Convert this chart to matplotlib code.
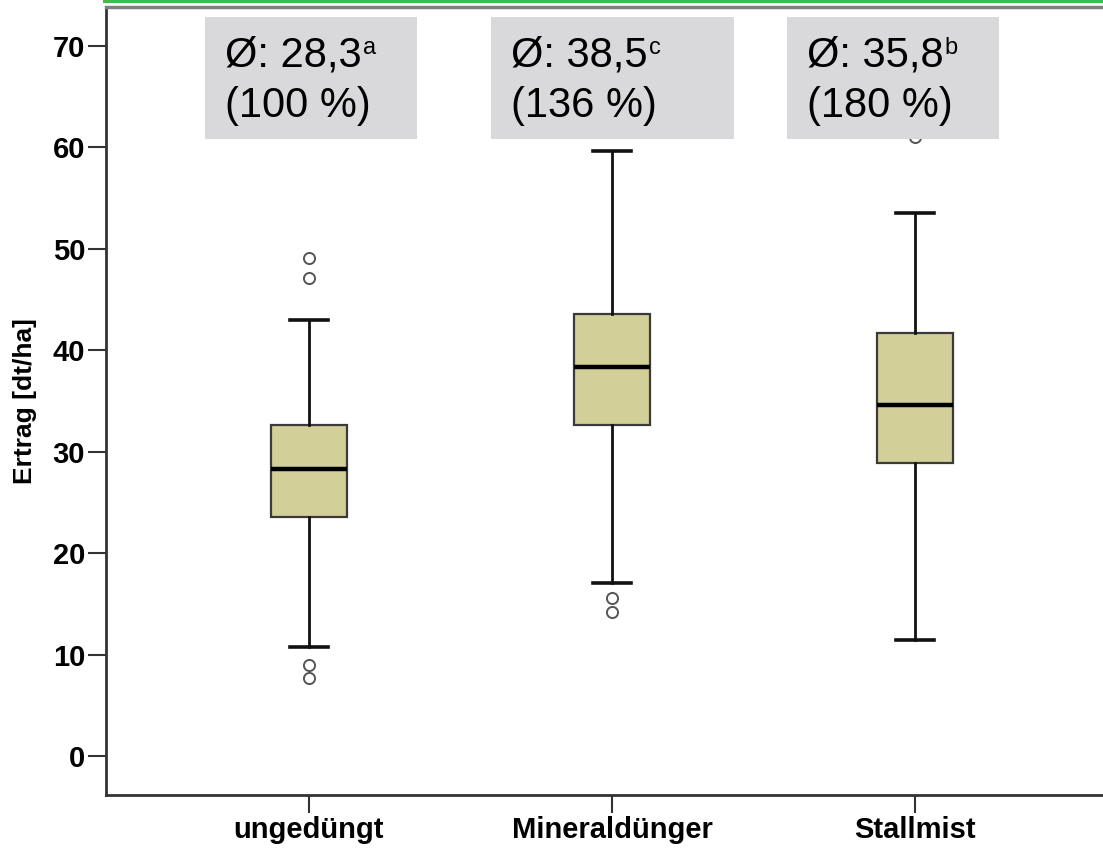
import matplotlib
matplotlib.use("Agg")
import matplotlib.pyplot as plt
from matplotlib.lines import Line2D
from matplotlib.patches import Rectangle

# Werte
categories = ["ungedüngt", "Mineraldünger", "Stallmist"]
q1 = [23.6, 32.6, 28.9]
medians = [28.3, 38.4, 34.6]
q3 = [32.6, 43.6, 41.7]
whisker_low = [10.7, 17.1, 11.4]
whisker_high = [43.0, 59.7, 53.5]
outliers = [[49.1, 47.1, 9.0, 7.7], [15.6, 14.2], [61.0]]

mean_values = ["28,3", "38,5", "35,8"]
mean_letters = ["a", "c", "b"]
relative_values = ["100 %", "136 %", "180 %"]
y_ticks = [0, 10, 20, 30, 40, 50, 60, 70]

plt.rcParams["font.family"] = ["Liberation Sans", "DejaVu Sans"]

W, H = 1103, 849
fig = plt.figure(figsize=(W / 100, H / 100), dpi=100)
# the right edge of the plot frame sits outside the picture in the original
ax = fig.add_axes([106 / W, 54 / H, 1012 / W, 788 / H])

stats = []
for i, cat in enumerate(categories):
    stats.append(dict(label=cat, med=medians[i], q1=q1[i], q3=q3[i],
                      whislo=whisker_low[i], whishi=whisker_high[i],
                      fliers=outliers[i]))

positions = list(range(1, len(categories) + 1))
ax.bxp(
    stats,
    positions=positions,
    widths=0.25,
    capwidths=0.125,
    patch_artist=True,
    boxprops=dict(facecolor="#d3cf98", edgecolor="#3a3a3a", linewidth=1.6),
    medianprops=dict(color="black", linewidth=3.2),
    whiskerprops=dict(color="#111111", linewidth=2.0),
    capprops=dict(color="#111111", linewidth=2.6),
    flierprops=dict(marker="o", markersize=8, markerfacecolor="white",
                    markeredgecolor="#555555", markeredgewidth=1.4),
)

ax.set_xlim(0.331, 3.669)
ax.set_ylim(-3.845, 73.85)
ax.set_yticks(y_ticks)
ax.set_yticklabels([str(v) for v in y_ticks], fontsize=21, fontweight="bold")
ax.set_xticks(positions)
ax.set_xticklabels(categories, fontsize=21, fontweight="bold")
ax.tick_params(axis="both", length=13, width=1.5, color="#333333", pad=2)

for side in ["left", "bottom"]:
    ax.spines[side].set_color("#333333")
    ax.spines[side].set_linewidth(2)
ax.spines["top"].set_color("#808080")
ax.spines["top"].set_linewidth(2.5)

fig.text(25 / W, 1 - 401 / H, "Ertrag [dt/ha]", rotation=90, fontsize=19,
         fontweight="bold", ha="center", va="center")

# green line above the frame
fig.add_artist(Line2D([104 / W, 1.0], [1 - 1 / H, 1 - 1 / H],
                      transform=fig.transFigure, color="#3dbd4c", linewidth=2.2))

# grey annotation boxes with means
box_left = [205, 491, 787]
box_right = [417, 734, 999]
renderer = fig.canvas.get_renderer()
for i in range(len(categories)):
    x0 = box_left[i] / W
    fig.add_artist(Rectangle((x0, 1 - 139 / H), (box_right[i] - box_left[i]) / W,
                             122 / H, transform=fig.transFigure,
                             facecolor="#d9d9db", edgecolor="none", zorder=5))
    tx = (box_left[i] + 20) / W
    t = fig.text(tx, 1 - 67 / H, "Ø: " + mean_values[i],
                 fontsize=30, va="baseline", ha="left", zorder=6)
    bb = t.get_window_extent(renderer)
    # small superscript letter next to the mean
    fig.text((bb.x1 + 1) / W, 1 - 54 / H, mean_letters[i],
             fontsize=17, va="baseline", ha="left", zorder=6)
    fig.text(tx, 1 - 117 / H, "(" + relative_values[i] + ")",
             fontsize=30, va="baseline", ha="left", zorder=6)

fig.savefig("out.png", dpi=100)
